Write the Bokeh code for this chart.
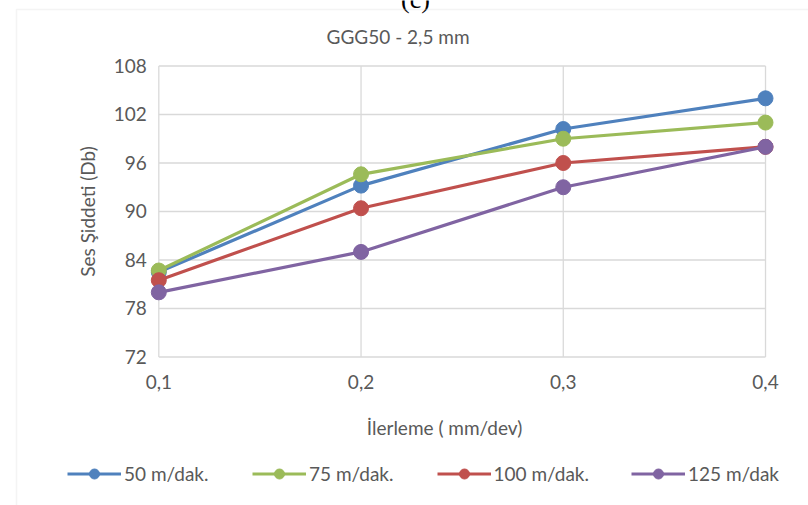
import math
from bokeh.plotting import figure
from bokeh.models import Range1d, FixedTicker, Legend, LegendItem, Label, BoxAnnotation
from bokeh.embed import file_html
from bokeh.resources import INLINE

# ---- data ----
feed = [0.1, 0.2, 0.3, 0.4]
feed_labels = ["0,1", "0,2", "0,3", "0,4"]
y_ticks = [72, 78, 84, 90, 96, 102, 108]
series_names = ["50 m/dak.", "75 m/dak.", "100 m/dak.", "125 m/dak"]
s50 = [82.5, 93.2, 100.2, 104.0]
s75 = [82.7, 94.6, 99.0, 101.0]
s100 = [81.5, 90.4, 96.0, 98.0]
s125 = [80.0, 85.0, 93.0, 98.0]
colors = ["#4f81bd", "#9bbb59", "#c0504d", "#8064a2"]

FONT = "Lato"
TXT = "#595959"
GRID = "#d9d9d9"
FS = "19px"
W, H = 808, 505

# frame covers the whole canvas; ranges chosen so the plot area sits at
# x 158..765 px and y 65..357 px
p = figure(width=W, height=H, output_backend="svg", toolbar_location=None,
           x_range=Range1d(0.02172, 0.42126), y_range=Range1d(53.63, 116.10),
           min_border=0, min_border_left=0, min_border_right=0,
           min_border_top=0, min_border_bottom=0)
p.title.visible = False
p.outline_line_color = None
p.xgrid.visible = False
p.ygrid.visible = False

# grid lines (from tick arrays)
p.segment(x0=feed[0], x1=feed[-1], y0=y_ticks, y1=y_ticks, line_color=GRID, line_width=1.3)
p.segment(x0=feed, x1=feed, y0=y_ticks[0], y1=y_ticks[-1], line_color=GRID, line_width=1.3)

# axes, fixed at the plot-area edges
for ax in (p.xaxis, p.yaxis):
    ax.axis_line_color = None
    ax.major_tick_line_color = None
    ax.minor_tick_line_color = None
    ax.major_tick_out = 0
    ax.major_tick_in = 0
    ax.major_label_text_font = FONT
    ax.major_label_text_font_size = FS
    ax.major_label_text_color = TXT

p.xaxis.fixed_location = y_ticks[0]
p.xaxis.ticker = FixedTicker(ticks=feed)
p.xaxis.major_label_overrides = {v: l for v, l in zip(feed, feed_labels)}
p.xaxis.major_label_standoff = 18

p.yaxis.fixed_location = feed[0]
p.yaxis.ticker = FixedTicker(ticks=y_ticks)
p.yaxis.major_label_standoff = 12

# series
all_series = [s50, s75, s100, s125]
legend_x = [67, 252, 436.5, 631]
for name, vals, col, lx in zip(series_names, all_series, colors, legend_x):
    lr = p.line(feed, vals, line_color=col, line_width=3.2)
    sr = p.scatter(feed, vals, marker="circle", size=15, fill_color=col, line_color=col)
    leg = Legend(items=[LegendItem(label=name, renderers=[lr, sr])],
                 location=(lx, H - 485.5), orientation="horizontal",
                 glyph_width=54, glyph_height=25, label_standoff=3,
                 padding=0, margin=0, spacing=0,
                 border_line_color=None, background_fill_alpha=0,
                 label_text_font=FONT, label_text_font_size=FS,
                 label_text_color=TXT)
    p.add_layout(leg)

# chart title
p.add_layout(Label(x=400, y=H - 36, x_units="screen", y_units="screen",
                   text="GGG50 - 2,5  mm", text_font=FONT, text_font_size=FS,
                   text_color=TXT, text_align="center", text_baseline="middle"))
# axis titles (placed as in the reference)
p.add_layout(Label(x=444, y=H - 427, x_units="screen", y_units="screen",
                   text="İlerleme ( mm/dev)", text_font=FONT, text_font_size=FS,
                   text_color=TXT, text_align="center", text_baseline="middle"))
p.add_layout(Label(x=87, y=H - 211, x_units="screen", y_units="screen",
                   angle=math.pi / 2,
                   text="Ses Şiddeti (Db)", text_font=FONT, text_font_size=FS,
                   text_color=TXT, text_align="center", text_baseline="middle"))
# partially visible panel caption above the chart
p.add_layout(Label(x=415, y=H + 1, x_units="screen", y_units="screen",
                   text="(c)", text_font="Liberation Serif", text_font_size="26px",
                   text_color="#000000", text_align="center", text_baseline="alphabetic"))
# chart area border
p.add_layout(BoxAnnotation(left=16, right=W + 20, top=H - 9, bottom=-20,
                           left_units="screen", right_units="screen",
                           top_units="screen", bottom_units="screen",
                           fill_alpha=0, line_color=GRID, line_width=1.5))

open("out.html", "w").write(file_html(p, INLINE))
